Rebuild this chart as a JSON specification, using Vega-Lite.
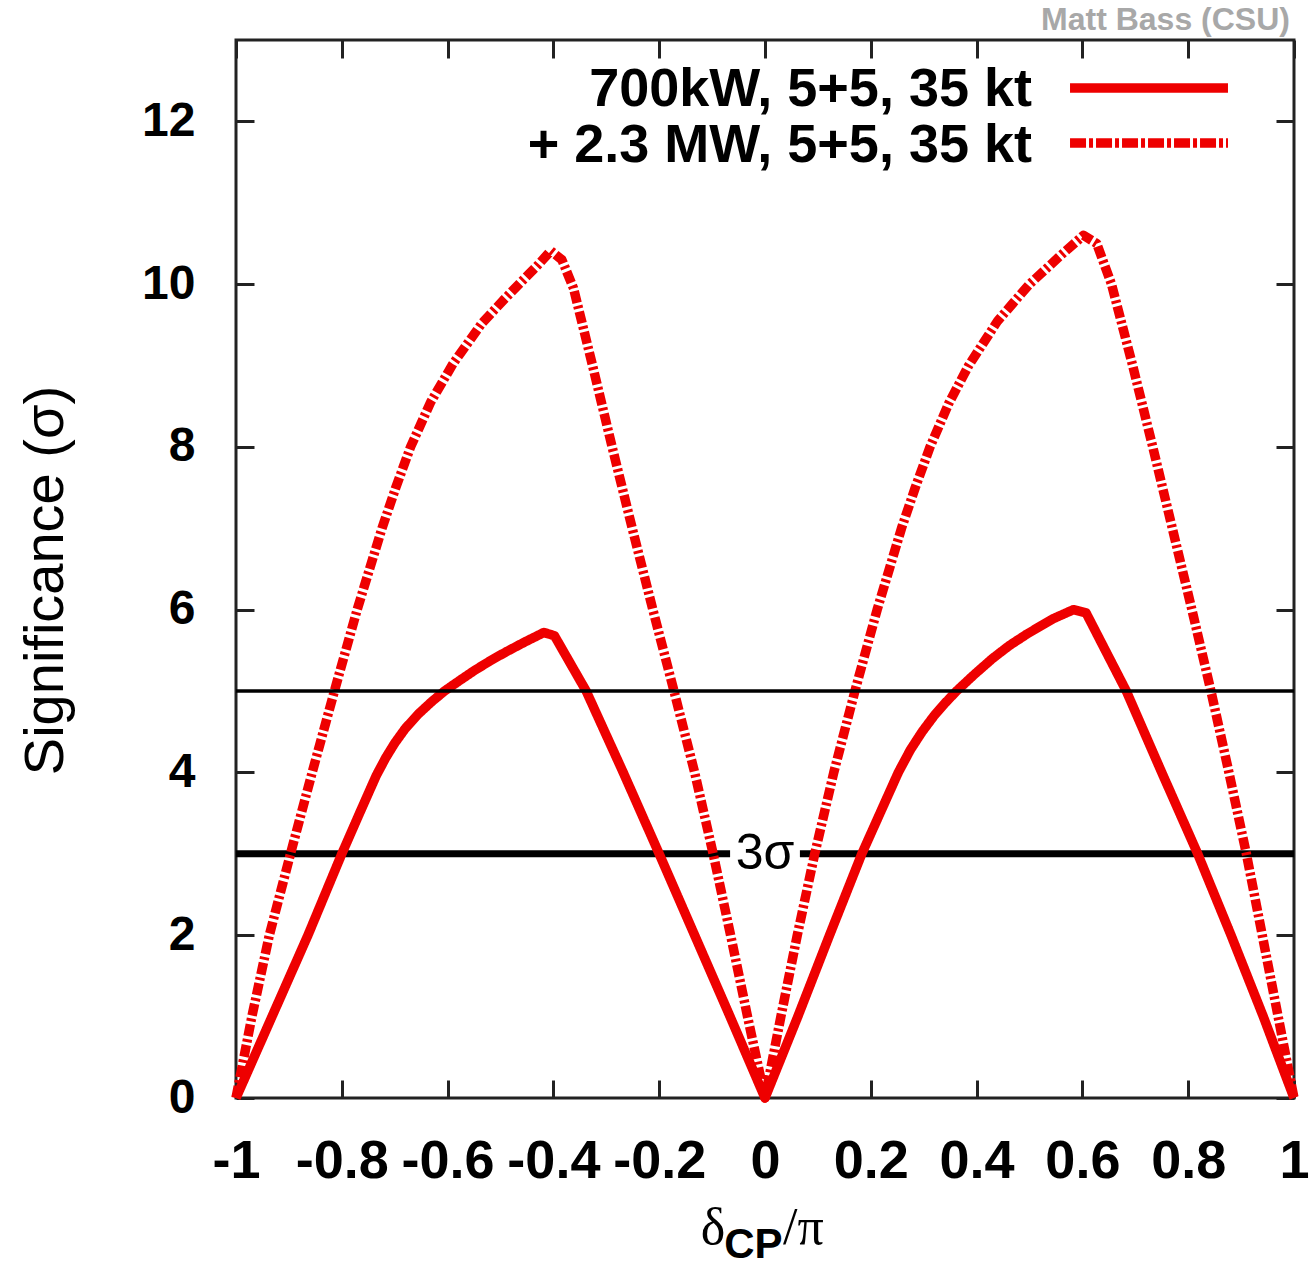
{
  "$schema": "https://vega.github.io/schema/vega-lite/v6.json",
  "width": 1058,
  "height": 1058,
  "autosize": "none",
  "padding": {"left": 236, "top": 40, "right": 15, "bottom": 170},
  "background": "white",
  "config": {"view": {"stroke": "#222", "strokeWidth": 3}, "font": "Liberation Sans"},
  "data": {"values": [{}]},
  "datasets": {
    "curves": [
      {"x": -1, "y": 0, "series": "700kW, 5+5, 35 kt"},
      {"x": -0.932, "y": 1, "series": "700kW, 5+5, 35 kt"},
      {"x": -0.864, "y": 2, "series": "700kW, 5+5, 35 kt"},
      {"x": -0.8, "y": 3, "series": "700kW, 5+5, 35 kt"},
      {"x": -0.765, "y": 3.52, "series": "700kW, 5+5, 35 kt"},
      {"x": -0.735, "y": 3.96, "series": "700kW, 5+5, 35 kt"},
      {"x": -0.717, "y": 4.18, "series": "700kW, 5+5, 35 kt"},
      {"x": -0.7, "y": 4.36, "series": "700kW, 5+5, 35 kt"},
      {"x": -0.68, "y": 4.54, "series": "700kW, 5+5, 35 kt"},
      {"x": -0.655, "y": 4.72, "series": "700kW, 5+5, 35 kt"},
      {"x": -0.63, "y": 4.87, "series": "700kW, 5+5, 35 kt"},
      {"x": -0.606, "y": 5.0, "series": "700kW, 5+5, 35 kt"},
      {"x": -0.575, "y": 5.14, "series": "700kW, 5+5, 35 kt"},
      {"x": -0.55, "y": 5.25, "series": "700kW, 5+5, 35 kt"},
      {"x": -0.52, "y": 5.37, "series": "700kW, 5+5, 35 kt"},
      {"x": -0.49, "y": 5.48, "series": "700kW, 5+5, 35 kt"},
      {"x": -0.455, "y": 5.6, "series": "700kW, 5+5, 35 kt"},
      {"x": -0.418, "y": 5.72, "series": "700kW, 5+5, 35 kt"},
      {"x": -0.398, "y": 5.68, "series": "700kW, 5+5, 35 kt"},
      {"x": -0.338, "y": 5, "series": "700kW, 5+5, 35 kt"},
      {"x": -0.268, "y": 4, "series": "700kW, 5+5, 35 kt"},
      {"x": -0.2, "y": 3, "series": "700kW, 5+5, 35 kt"},
      {"x": -0.133, "y": 2, "series": "700kW, 5+5, 35 kt"},
      {"x": -0.066, "y": 1, "series": "700kW, 5+5, 35 kt"},
      {"x": 0, "y": 0, "series": "700kW, 5+5, 35 kt"},
      {"x": 0.062, "y": 1, "series": "700kW, 5+5, 35 kt"},
      {"x": 0.122, "y": 2, "series": "700kW, 5+5, 35 kt"},
      {"x": 0.183, "y": 3, "series": "700kW, 5+5, 35 kt"},
      {"x": 0.252, "y": 4, "series": "700kW, 5+5, 35 kt"},
      {"x": 0.275, "y": 4.28, "series": "700kW, 5+5, 35 kt"},
      {"x": 0.297, "y": 4.5, "series": "700kW, 5+5, 35 kt"},
      {"x": 0.32, "y": 4.7, "series": "700kW, 5+5, 35 kt"},
      {"x": 0.34, "y": 4.85, "series": "700kW, 5+5, 35 kt"},
      {"x": 0.362, "y": 5, "series": "700kW, 5+5, 35 kt"},
      {"x": 0.395, "y": 5.2, "series": "700kW, 5+5, 35 kt"},
      {"x": 0.43, "y": 5.4, "series": "700kW, 5+5, 35 kt"},
      {"x": 0.462, "y": 5.56, "series": "700kW, 5+5, 35 kt"},
      {"x": 0.495, "y": 5.7, "series": "700kW, 5+5, 35 kt"},
      {"x": 0.545, "y": 5.89, "series": "700kW, 5+5, 35 kt"},
      {"x": 0.583, "y": 6.0, "series": "700kW, 5+5, 35 kt"},
      {"x": 0.607, "y": 5.96, "series": "700kW, 5+5, 35 kt"},
      {"x": 0.683, "y": 5, "series": "700kW, 5+5, 35 kt"},
      {"x": 0.75, "y": 4, "series": "700kW, 5+5, 35 kt"},
      {"x": 0.818, "y": 3, "series": "700kW, 5+5, 35 kt"},
      {"x": 0.881, "y": 2, "series": "700kW, 5+5, 35 kt"},
      {"x": 0.942, "y": 1, "series": "700kW, 5+5, 35 kt"},
      {"x": 1, "y": 0, "series": "700kW, 5+5, 35 kt"},
      {"x": -1, "y": 0, "series": "+ 2.3 MW, 5+5, 35 kt"},
      {"x": -0.97, "y": 1, "series": "+ 2.3 MW, 5+5, 35 kt"},
      {"x": -0.937, "y": 2, "series": "+ 2.3 MW, 5+5, 35 kt"},
      {"x": -0.897, "y": 3, "series": "+ 2.3 MW, 5+5, 35 kt"},
      {"x": -0.856, "y": 4, "series": "+ 2.3 MW, 5+5, 35 kt"},
      {"x": -0.814, "y": 5, "series": "+ 2.3 MW, 5+5, 35 kt"},
      {"x": -0.771, "y": 6, "series": "+ 2.3 MW, 5+5, 35 kt"},
      {"x": -0.724, "y": 7, "series": "+ 2.3 MW, 5+5, 35 kt"},
      {"x": -0.698, "y": 7.5, "series": "+ 2.3 MW, 5+5, 35 kt"},
      {"x": -0.67, "y": 8, "series": "+ 2.3 MW, 5+5, 35 kt"},
      {"x": -0.632, "y": 8.55, "series": "+ 2.3 MW, 5+5, 35 kt"},
      {"x": -0.59, "y": 9.02, "series": "+ 2.3 MW, 5+5, 35 kt"},
      {"x": -0.535, "y": 9.52, "series": "+ 2.3 MW, 5+5, 35 kt"},
      {"x": -0.495, "y": 9.8, "series": "+ 2.3 MW, 5+5, 35 kt"},
      {"x": -0.462, "y": 10.02, "series": "+ 2.3 MW, 5+5, 35 kt"},
      {"x": -0.43, "y": 10.23, "series": "+ 2.3 MW, 5+5, 35 kt"},
      {"x": -0.405, "y": 10.41, "series": "+ 2.3 MW, 5+5, 35 kt"},
      {"x": -0.384, "y": 10.3, "series": "+ 2.3 MW, 5+5, 35 kt"},
      {"x": -0.362, "y": 9.95, "series": "+ 2.3 MW, 5+5, 35 kt"},
      {"x": -0.326, "y": 9, "series": "+ 2.3 MW, 5+5, 35 kt"},
      {"x": -0.289, "y": 8, "series": "+ 2.3 MW, 5+5, 35 kt"},
      {"x": -0.251, "y": 7, "series": "+ 2.3 MW, 5+5, 35 kt"},
      {"x": -0.212, "y": 6, "series": "+ 2.3 MW, 5+5, 35 kt"},
      {"x": -0.172, "y": 5, "series": "+ 2.3 MW, 5+5, 35 kt"},
      {"x": -0.133, "y": 4, "series": "+ 2.3 MW, 5+5, 35 kt"},
      {"x": -0.098, "y": 3, "series": "+ 2.3 MW, 5+5, 35 kt"},
      {"x": -0.065, "y": 2, "series": "+ 2.3 MW, 5+5, 35 kt"},
      {"x": -0.033, "y": 1, "series": "+ 2.3 MW, 5+5, 35 kt"},
      {"x": 0, "y": 0, "series": "+ 2.3 MW, 5+5, 35 kt"},
      {"x": 0.03, "y": 1, "series": "+ 2.3 MW, 5+5, 35 kt"},
      {"x": 0.061, "y": 2, "series": "+ 2.3 MW, 5+5, 35 kt"},
      {"x": 0.094, "y": 3, "series": "+ 2.3 MW, 5+5, 35 kt"},
      {"x": 0.13, "y": 4, "series": "+ 2.3 MW, 5+5, 35 kt"},
      {"x": 0.17, "y": 5, "series": "+ 2.3 MW, 5+5, 35 kt"},
      {"x": 0.212, "y": 6, "series": "+ 2.3 MW, 5+5, 35 kt"},
      {"x": 0.258, "y": 7, "series": "+ 2.3 MW, 5+5, 35 kt"},
      {"x": 0.284, "y": 7.5, "series": "+ 2.3 MW, 5+5, 35 kt"},
      {"x": 0.312, "y": 8, "series": "+ 2.3 MW, 5+5, 35 kt"},
      {"x": 0.347, "y": 8.53, "series": "+ 2.3 MW, 5+5, 35 kt"},
      {"x": 0.385, "y": 9, "series": "+ 2.3 MW, 5+5, 35 kt"},
      {"x": 0.44, "y": 9.55, "series": "+ 2.3 MW, 5+5, 35 kt"},
      {"x": 0.5, "y": 10, "series": "+ 2.3 MW, 5+5, 35 kt"},
      {"x": 0.555, "y": 10.33, "series": "+ 2.3 MW, 5+5, 35 kt"},
      {"x": 0.602, "y": 10.6, "series": "+ 2.3 MW, 5+5, 35 kt"},
      {"x": 0.627, "y": 10.5, "series": "+ 2.3 MW, 5+5, 35 kt"},
      {"x": 0.655, "y": 10, "series": "+ 2.3 MW, 5+5, 35 kt"},
      {"x": 0.695, "y": 9, "series": "+ 2.3 MW, 5+5, 35 kt"},
      {"x": 0.733, "y": 8, "series": "+ 2.3 MW, 5+5, 35 kt"},
      {"x": 0.77, "y": 7, "series": "+ 2.3 MW, 5+5, 35 kt"},
      {"x": 0.807, "y": 6, "series": "+ 2.3 MW, 5+5, 35 kt"},
      {"x": 0.843, "y": 5, "series": "+ 2.3 MW, 5+5, 35 kt"},
      {"x": 0.877, "y": 4, "series": "+ 2.3 MW, 5+5, 35 kt"},
      {"x": 0.91, "y": 3, "series": "+ 2.3 MW, 5+5, 35 kt"},
      {"x": 0.94, "y": 2, "series": "+ 2.3 MW, 5+5, 35 kt"},
      {"x": 0.97, "y": 1, "series": "+ 2.3 MW, 5+5, 35 kt"},
      {"x": 1, "y": 0, "series": "+ 2.3 MW, 5+5, 35 kt"}
    ],
    "sigma3": [
      {"start": -1, "end": -0.066, "level": 3},
      {"start": 0.066, "end": 1, "level": 3}
    ]
  },
  "layer": [
    {
      "data": {"name": "sigma3"},
      "mark": {"type": "rule", "color": "#000", "strokeWidth": 7},
      "encoding": {
        "x": {"field": "start", "type": "quantitative", "scale": {"domain": [-1, 1], "nice": false, "zero": false},
          "axis": {"orient": "top", "labels": false, "domain": false, "grid": false, "title": null, "ticks": true, "tickSize": -18, "tickWidth": 3, "tickColor": "#222",
            "values": [-1, -0.8, -0.6, -0.4, -0.2, 0, 0.2, 0.4, 0.6, 0.8, 1]}},
        "x2": {"field": "end"},
        "y": {"field": "level", "type": "quantitative", "scale": {"domain": [0, 13], "nice": false, "zero": false},
          "axis": {"orient": "right", "labels": false, "domain": false, "grid": false, "title": null, "ticks": true, "tickSize": -18, "tickWidth": 3, "tickColor": "#222",
            "values": [0, 2, 4, 6, 8, 10, 12]}}
      }
    },
    {
      "data": {"name": "curves"},
      "mark": {"type": "line", "color": "#ee0000", "strokeWidth": 9.5, "strokeJoin": "round", "strokeCap": "butt"},
      "encoding": {
        "x": {"field": "x", "type": "quantitative", "scale": {"domain": [-1, 1], "nice": false, "zero": false},
          "axis": {"orient": "bottom", "values": [-1, -0.8, -0.6, -0.4, -0.2, 0, 0.2, 0.4, 0.6, 0.8, 1],
            "labelExpr": "datum.value < 0 ? '-' + format(-datum.value, '~g') : format(datum.value, '~g')",
            "labelFont": "Liberation Sans", "labelFontWeight": "bold", "labelFontSize": 54, "labelColor": "#000",
            "labelPadding": 54, "labelFlush": false, "labelOverlap": false,
            "ticks": true, "tickSize": -18, "tickWidth": 3, "tickColor": "#222", "domain": false, "grid": false, "title": null}},
        "y": {"field": "y", "type": "quantitative", "scale": {"domain": [0, 13], "nice": false, "zero": false},
          "axis": {"orient": "left", "values": [0, 2, 4, 6, 8, 10, 12],
            "labelFont": "Liberation Sans", "labelFontWeight": "bold", "labelFontSize": 48, "labelColor": "#000",
            "labelPadding": 59, "labelFlush": false, "labelOverlap": false,
            "ticks": true, "tickSize": -18, "tickWidth": 3, "tickColor": "#222", "domain": false, "grid": false,
            "title": "Significance (σ)", "titleFont": "Liberation Sans", "titleFontWeight": "normal", "titleFontSize": 56, "titleColor": "#000",
            "titleX": -191, "titleY": 540, "titleAngle": -90, "titleAlign": "center", "titleBaseline": "middle"}},
        "detail": {"field": "series"},
        "strokeDash": {"field": "series", "type": "nominal",
          "scale": {"domain": ["700kW, 5+5, 35 kt", "+ 2.3 MW, 5+5, 35 kt"], "range": [[1, 0], [12, 3, 3, 3]]}, "legend": null}
      }
    },
    {
      "mark": {"type": "rule", "color": "#000", "strokeWidth": 3.5},
      "encoding": {
        "x": {"datum": -1, "type": "quantitative", "scale": {"domain": [-1, 1], "nice": false, "zero": false}, "axis": null},
        "x2": {"datum": 1},
        "y": {"datum": 5, "type": "quantitative", "scale": {"domain": [0, 13], "nice": false, "zero": false}, "axis": null}
      }
    },
    {
      "mark": {"type": "text", "text": "3σ", "font": "Liberation Sans", "fontSize": 50, "color": "#000", "align": "center", "baseline": "middle"},
      "encoding": {
        "x": {"datum": 0, "type": "quantitative", "scale": {"domain": [-1, 1], "nice": false, "zero": false}, "axis": null},
        "y": {"datum": 3, "type": "quantitative", "scale": {"domain": [0, 13], "nice": false, "zero": false}, "axis": null}
      }
    },
    {
      "mark": {"type": "rule", "color": "#ee0000", "strokeWidth": 9.5},
      "encoding": {
        "x": {"datum": 0.5766, "type": "quantitative", "scale": {"domain": [-1, 1], "nice": false, "zero": false}, "axis": null},
        "x2": {"datum": 0.8752},
        "y": {"datum": 12.41, "type": "quantitative", "scale": {"domain": [0, 13], "nice": false, "zero": false}, "axis": null}
      }
    },
    {
      "mark": {"type": "rule", "color": "#ee0000", "strokeWidth": 9.5, "strokeDash": [16, 3, 4, 3]},
      "encoding": {
        "x": {"datum": 0.5766, "type": "quantitative", "scale": {"domain": [-1, 1], "nice": false, "zero": false}, "axis": null},
        "x2": {"datum": 0.8752},
        "y": {"datum": 11.735, "type": "quantitative", "scale": {"domain": [0, 13], "nice": false, "zero": false}, "axis": null}
      }
    },
    {
      "mark": {"type": "text", "text": "700kW, 5+5, 35 kt", "font": "Liberation Sans", "fontWeight": "bold", "fontSize": 54, "color": "#000", "align": "right", "baseline": "alphabetic"},
      "encoding": {
        "x": {"datum": 0.5047, "type": "quantitative", "scale": {"domain": [-1, 1], "nice": false, "zero": false}, "axis": null},
        "y": {"datum": 12.19, "type": "quantitative", "scale": {"domain": [0, 13], "nice": false, "zero": false}, "axis": null}
      }
    },
    {
      "mark": {"type": "text", "text": "+ 2.3 MW, 5+5, 35 kt", "font": "Liberation Sans", "fontWeight": "bold", "fontSize": 54, "color": "#000", "align": "right", "baseline": "alphabetic"},
      "encoding": {
        "x": {"datum": 0.5047, "type": "quantitative", "scale": {"domain": [-1, 1], "nice": false, "zero": false}, "axis": null},
        "y": {"datum": 11.5, "type": "quantitative", "scale": {"domain": [0, 13], "nice": false, "zero": false}, "axis": null}
      }
    },
    {
      "mark": {"type": "text", "text": "Matt Bass (CSU)", "font": "Liberation Sans", "fontWeight": "bold", "fontSize": 32, "color": "#a8a8a8", "align": "right", "baseline": "alphabetic"},
      "encoding": {
        "x": {"datum": 0.9924, "type": "quantitative", "scale": {"domain": [-1, 1], "nice": false, "zero": false}, "axis": null},
        "y": {"datum": 13.12, "type": "quantitative", "scale": {"domain": [0, 13], "nice": false, "zero": false}, "axis": null}
      }
    },
    {
      "mark": {"type": "text", "text": "δ", "font": "Liberation Serif", "fontSize": 52, "color": "#000", "align": "right", "baseline": "alphabetic"},
      "encoding": {
        "x": {"datum": -0.075, "type": "quantitative", "scale": {"domain": [-1, 1], "nice": false, "zero": false}, "axis": null},
        "y": {"datum": -1.8, "type": "quantitative", "scale": {"domain": [0, 13], "nice": false, "zero": false}, "axis": null}
      }
    },
    {
      "mark": {"type": "text", "text": "CP", "font": "Liberation Sans", "fontWeight": "bold", "fontSize": 42, "color": "#000", "align": "left", "baseline": "alphabetic", "dy": 14},
      "encoding": {
        "x": {"datum": -0.077, "type": "quantitative", "scale": {"domain": [-1, 1], "nice": false, "zero": false}, "axis": null},
        "y": {"datum": -1.8, "type": "quantitative", "scale": {"domain": [0, 13], "nice": false, "zero": false}, "axis": null}
      }
    },
    {
      "mark": {"type": "text", "text": "/π", "font": "Liberation Serif", "fontSize": 52, "color": "#000", "align": "left", "baseline": "alphabetic"},
      "encoding": {
        "x": {"datum": 0.034, "type": "quantitative", "scale": {"domain": [-1, 1], "nice": false, "zero": false}, "axis": null},
        "y": {"datum": -1.8, "type": "quantitative", "scale": {"domain": [0, 13], "nice": false, "zero": false}, "axis": null}
      }
    }
  ],
  "resolve": {"axis": {"x": "independent", "y": "independent"}}
}
